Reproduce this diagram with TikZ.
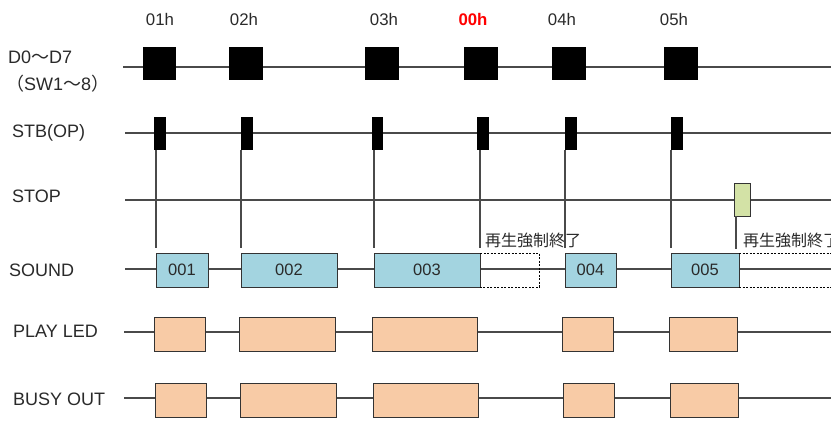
\documentclass[tikz,border=0pt]{standalone}
\usepackage{fontspec}
\setmainfont{Liberation Sans}
\newfontfamily\cjk{Noto Sans CJK JP}
\definecolor{sndblue}{HTML}{A3D4E0}
\definecolor{ledorange}{HTML}{F8CBA6}
\definecolor{stopgreen}{HTML}{D3E2A6}
\definecolor{wire}{HTML}{4A4A4A}
\definecolor{txt}{HTML}{2A2A2A}
\begin{document}
\begin{tikzpicture}[x=1pt,y=-1pt,
  wireline/.style={draw=wire,line width=1.3pt},
  conn/.style={draw=wire,line width=1.3pt,shorten >=5pt},
  dashline/.style={draw=black,line width=1pt,dash pattern=on 2pt off 1.5pt},
  blk/.style={fill=black,draw=none,inner sep=0pt,outer sep=0pt,minimum height=33pt},
  pulse/.style={blk,minimum width=12pt},
  datasq/.style={blk,minimum width=34pt},
  sndbox/.style={fill=sndblue,draw=black!80,line width=1pt,inner sep=0pt,outer sep=0pt,minimum height=34pt,text=txt,font=\fontsize{16.5}{16.5}\selectfont},
  ledbox/.style={fill=ledorange,draw=black!80,line width=1pt,inner sep=0pt,outer sep=0pt,minimum height=34pt},
  stopbox/.style={fill=stopgreen,draw=black!80,line width=1pt,inner sep=0pt,outer sep=0pt,minimum height=33pt,minimum width=16pt},
  rowlabel/.style={anchor=base west,inner sep=0pt,text=txt,font=\fontsize{18}{18}\selectfont},
  toplabel/.style={anchor=base,inner sep=0pt,text=txt,font=\fontsize{16.8}{16.8}\selectfont},
  jplabel/.style={anchor=base west,inner sep=0pt,text=txt,font=\cjk\fontsize{16}{16}\selectfont}
]
\useasboundingbox[fill=white] (0,0) rectangle (831,421);

% row labels
\node[rowlabel] (lD) at (8,63) {D0{\cjk ～}D7};
\node[rowlabel] (lSW) at (6,90) {{\cjk （}SW1{\cjk ～}8{\cjk ）}};
\node[rowlabel] (lSTB) at (12,137) {STB(OP)};
\node[rowlabel] (lSTOP) at (12,202) {STOP};
\node[rowlabel] (lSND) at (9,276) {SOUND};
\node[rowlabel] (lLED) at (13,337) {PLAY LED};
\node[rowlabel] (lBUSY) at (13,405) {BUSY OUT};

% top labels
\node[toplabel] (h1) at (160,25) {01h};
\node[toplabel] (h2) at (244,25) {02h};
\node[toplabel] (h3) at (384,25) {03h};
\node[toplabel,text=red,font=\fontsize{16.8}{16.8}\selectfont\bfseries] (h0) at (473,25) {00h};
\node[toplabel] (h4) at (562,25) {04h};
\node[toplabel] (h5) at (674,25) {05h};

% base lines
\coordinate (dA) at (123,67);  \coordinate (dB) at (831,67);
\coordinate (bA) at (125,133); \coordinate (bB) at (831,133);
\coordinate (tA) at (125,200); \coordinate (tB) at (831,200);
\coordinate (sA) at (125,269); \coordinate (sB) at (831,269);
\coordinate (pA) at (124,332); \coordinate (pB) at (831,332);
\coordinate (yA) at (124,398); \coordinate (yB) at (831,398);
\draw[wireline] (dA) -- (dB);
\draw[wireline] (bA) -- (bB);
\draw[wireline] (tA) -- (tB);
\draw[wireline] (sA) -- (sB);
\draw[wireline] (pA) -- (pB);
\draw[wireline] (yA) -- (yB);

% data squares
\node[datasq,minimum width=33pt] (d1) at (159.5,63.5) {};
\node[datasq] (d2) at (246,63.5) {};
\node[datasq] (d3) at (382,63.5) {};
\node[datasq] (d4) at (481,63.5) {};
\node[datasq] (d5) at (569,63.5) {};
\node[datasq] (d6) at (681,63.5) {};

% strobe pulses
\node[pulse] (p1) at (160,133.5) {};
\node[pulse] (p2) at (247,133.5) {};
\node[pulse,minimum width=11pt] (p3) at (377.5,133.5) {};
\node[pulse] (p4) at (483,133.5) {};
\node[pulse] (p5) at (570.5,133.5) {};
\node[pulse] (p6) at (677,133.5) {};

% stop pulse
\node[stopbox] (g) at (742,199.5) {};

% sound boxes
\node[sndbox,minimum width=52pt] (s1) at (182,270) {001};
\node[sndbox,minimum width=96pt] (s2) at (289,270) {002};
\node[sndbox,minimum width=106pt] (s3) at (427,270) {003};
\node[sndbox,minimum width=51pt] (s4) at (590.5,270) {004};
\node[sndbox,minimum width=68pt] (s5) at (705,270) {005};

% forced stop regions
\draw[dashline] (s3.north east) -- ++(59,0) |- (s3.south east);
\coordinate (eT) at (831,253);
\coordinate (eB) at (831,287);
\draw[dashline] (s5.north east) -- (eT);
\draw[dashline] (s5.south east) -- (eB);
\node[jplabel] (j1) at (485,246) {再生強制終了};
\node[jplabel] (j2) at (743,246) {再生強制終了};

% connectors
\draw[conn] (s1.north west |- p1.south) -- (s1.north west);
\draw[conn] (s2.north west |- p2.south) -- (s2.north west);
\draw[conn] (s3.north west |- p3.south) -- (s3.north west);
\draw[conn] (s3.north east |- p4.south) -- (s3.north east);
\draw[conn] (s4.north west |- p4.south) -- (s4.north west);
\draw[conn] (s5.north west |- p6.south) -- (s5.north west);
\coordinate (gend) at (736,249);
\draw[wireline] (gend |- g.south) -- (gend);

% play led
\node[ledbox,minimum width=51pt] (l1) at (179.5,334) {};
\node[ledbox,minimum width=96pt] (l2) at (287,334) {};
\node[ledbox,minimum width=105pt] (l3) at (424.5,334) {};
\node[ledbox,minimum width=51pt] (l4) at (587.5,334) {};
\node[ledbox,minimum width=68pt] (l5) at (703,334) {};

% busy out
\node[ledbox,minimum width=51pt] (b1) at (180.5,400) {};
\node[ledbox,minimum width=96pt] (b2) at (288,400) {};
\node[ledbox,minimum width=105pt] (b3) at (425.5,400) {};
\node[ledbox,minimum width=51pt] (b4) at (588.5,400) {};
\node[ledbox,minimum width=68pt] (b5) at (704,400) {};
\end{tikzpicture}
\end{document}
